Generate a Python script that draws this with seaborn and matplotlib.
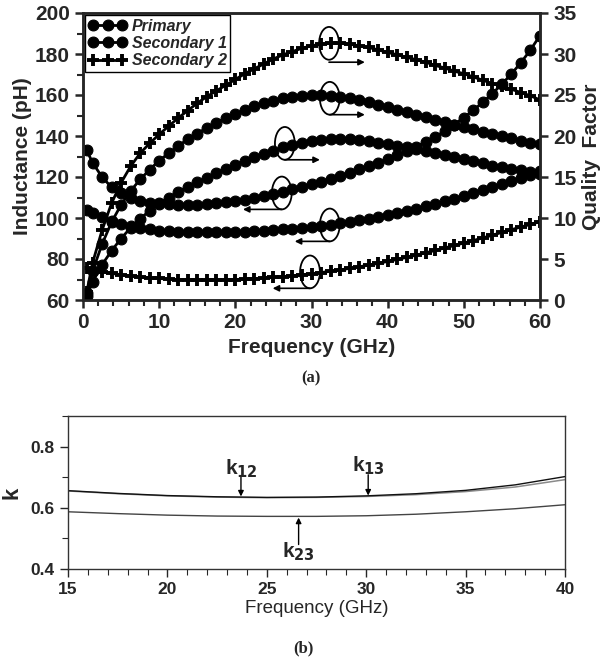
import numpy as np
import pandas as pd
import seaborn as sns
import matplotlib.pyplot as plt
from matplotlib.patches import Ellipse
from matplotlib.ticker import MultipleLocator

# ---- data (a): inductance and Q versus frequency ----
freq = [0.5] + list(np.arange(1.25, 60.01, 1.25))

L_pri = [133,
         127, 120, 115, 112,
         110, 108.5, 107.5, 107,
         106.6, 106.4, 106.4, 106.5,
         106.8, 107.2, 107.7, 108.3,
         109, 109.8, 110.7, 111.7,
         112.8, 114, 115.2, 116.5,
         117.8, 119.2, 120.6, 122.1,
         123.7, 125.3, 127, 128.8,
         130.7, 132.7, 134.8, 137,
         139.6, 142.4, 145.6, 149.0,
         152.6, 156.5, 160.7, 165.3,
         170.3, 175.8, 182, 189]
L_sec1 = [104,
          102.5, 100.3, 98.5, 97,
          95.9, 95, 94.4, 93.9,
          93.5, 93.3, 93.1, 93,
          93, 93, 93.1, 93.2,
          93.4, 93.6, 93.8, 94.1,
          94.4, 94.8, 95.2, 95.7,
          96.2, 96.8, 97.4, 98.1,
          98.9, 99.7, 100.6, 101.5,
          102.5, 103.5, 104.6, 105.7,
          106.9, 108.1, 109.4, 110.7,
          112.1, 113.5, 115, 116.5,
          118, 119.6, 121.2, 122.8]
L_sec2 = [75.5,
          75, 73.8, 73, 72.3,
          71.7, 71.2, 70.8, 70.5,
          70.2, 70, 69.9, 69.8,
          69.8, 69.8, 69.9, 70,
          70.2, 70.4, 70.7, 71,
          71.4, 71.8, 72.3, 72.8,
          73.4, 74, 74.7, 75.4,
          76.2, 77, 77.9, 78.8,
          79.8, 80.8, 81.9, 83,
          84.2, 85.4, 86.6, 87.8,
          89, 90.3, 91.6, 93,
          94.3, 95.6, 96.9, 98.2]

Q_pri = [0.5,
         2.2, 4.3, 6.0, 7.5,
         8.8, 9.9, 10.9, 11.8,
         12.5, 13.2, 13.8, 14.4,
         14.9, 15.5, 16.0, 16.5,
         17.0, 17.4, 17.8, 18.2,
         18.6, 18.9, 19.2, 19.4,
         19.5, 19.6, 19.6, 19.6,
         19.5, 19.4, 19.2, 19.0,
         18.8, 18.6, 18.4, 18.2,
         17.9, 17.7, 17.4, 17.2,
         16.9, 16.7, 16.4, 16.2,
         16.0, 15.8, 15.6, 15.4]
Q_sec1 = [0.8,
          3.5, 6.8, 9.5, 11.6,
          13.3, 14.7, 15.9, 17.0,
          17.9, 18.8, 19.6, 20.3,
          21.0, 21.6, 22.2, 22.7,
          23.2, 23.6, 24.0, 24.3,
          24.6, 24.8, 24.9, 25.0,
          25.0, 24.9, 24.8, 24.6,
          24.4, 24.1, 23.8, 23.5,
          23.2, 22.9, 22.6, 22.3,
          22.0, 21.7, 21.4, 21.1,
          20.8, 20.5, 20.2, 20.0,
          19.7, 19.4, 19.2, 19.0]
Q_sec2 = [1.0,
          4.5, 8.5, 11.8, 14.3,
          16.3, 17.9, 19.1, 20.2,
          21.2, 22.2, 23.1, 24.0,
          24.8, 25.5, 26.2, 26.9,
          27.6, 28.2, 28.8, 29.4,
          29.9, 30.3, 30.7, 31.0,
          31.2, 31.3, 31.3, 31.2,
          31.0, 30.8, 30.5, 30.2,
          29.9, 29.6, 29.3, 29.0,
          28.6, 28.3, 27.9, 27.6,
          27.2, 26.8, 26.4, 26.1,
          25.7, 25.3, 24.9, 24.4]

# ---- data (b): coupling coefficients ----
freq_k = [15, 17.5, 20, 22.5, 25, 27.5, 30, 32.5, 35, 37.5, 40]
k12 = [0.655, 0.646, 0.639, 0.635, 0.633, 0.634, 0.637, 0.643, 0.653, 0.668, 0.692]
k13 = [0.656, 0.647, 0.640, 0.636, 0.634, 0.635, 0.639, 0.646, 0.657, 0.675, 0.702]
k23 = [0.587, 0.581, 0.576, 0.573, 0.572, 0.572, 0.574, 0.579, 0.587, 0.597, 0.610]

sns.set_style('ticks')
plt.rcParams['font.family'] = ['Liberation Sans', 'DejaVu Sans']

fig = plt.figure(figsize=(6.04, 6.66), dpi=100)
ax = fig.add_axes([83 / 604, 1 - 300 / 666, 457 / 604, 287 / 666])
ax2 = ax.twinx()

df = pd.DataFrame({'f': freq, 'Lp': L_pri, 'L1': L_sec1, 'L2': L_sec2,
                   'Qp': Q_pri, 'Q1': Q_sec1, 'Q2': Q_sec2})

circ = dict(marker='o', markersize=7.8, color='black', linewidth=2,
            markeredgecolor='black', markeredgewidth=0.8)
plus = dict(marker='+', markersize=8, markeredgewidth=2.8, color='black',
            linewidth=2, markeredgecolor='black')

sns.lineplot(data=df, x='f', y='Lp', ax=ax, label='Primary', **circ)
sns.lineplot(data=df, x='f', y='L1', ax=ax, label='Secondary 1', **circ)
sns.lineplot(data=df, x='f', y='L2', ax=ax, label='Secondary 2', **plus)
sns.lineplot(data=df, x='f', y='Qp', ax=ax2, legend=False, **circ)
sns.lineplot(data=df, x='f', y='Q1', ax=ax2, legend=False, **circ)
sns.lineplot(data=df, x='f', y='Q2', ax=ax2, legend=False, **plus)

ax.set_xlim(0, 60)
ax.set_ylim(60, 200)
ax2.set_ylim(0, 35)
ax.xaxis.set_major_locator(MultipleLocator(10))
ax.xaxis.set_minor_locator(MultipleLocator(2))
ax.yaxis.set_major_locator(MultipleLocator(20))
ax.yaxis.set_minor_locator(MultipleLocator(10))
ax2.yaxis.set_major_locator(MultipleLocator(5))

for a in (ax, ax2):
    for s in a.spines.values():
        s.set_linewidth(1.8)
        s.set_visible(True)
    a.tick_params(which='major', direction='out', length=6, width=1.8, labelsize=15)
    a.tick_params(which='minor', direction='out', length=4, width=1.5)
    for lab in a.get_xticklabels() + a.get_yticklabels():
        lab.set_fontweight('bold')

ax.set_xlabel('Frequency (GHz)', fontsize=15, fontweight='bold', labelpad=4)
ax.set_ylabel('Inductance (pH)', fontsize=15, fontweight='bold', labelpad=2)
ax2.set_ylabel('Quality  Factor', fontsize=15, fontweight='bold', labelpad=4)

leg = ax.legend(loc='upper left', numpoints=3, handlelength=2.4, handletextpad=0.3,
                borderaxespad=0.15, borderpad=0.2, labelspacing=0.15,
                fancybox=False, framealpha=1, edgecolor='black',
                prop=dict(size=11.5, style='italic', weight='bold'))
leg.get_frame().set_linewidth(1.0)

# ellipse markers with arrows: (axis, cx, cy, height, arrow y, arrow end x)
marks = [(ax2, 32.3, 31.3, 4.0, 29.0, 37.0),
         (ax2, 32.4, 24.6, 4.0, 22.6, 37.0),
         (ax2, 26.5, 19.1, 4.0, 17.1, 31.1),
         (ax, 26.1, 112.2, 16.0, 104.2, 21.0),
         (ax, 32.4, 96.6, 16.0, 88.6, 27.8),
         (ax, 29.8, 73.7, 16.0, 65.7, 24.9)]
for a, cx, cy, h, ay, ax_end in marks:
    a.add_patch(Ellipse((cx, cy), 2.6, h, fill=False, edgecolor='black', lw=1.3, zorder=5))
    a.annotate('', xy=(ax_end, ay), xytext=(cx, ay),
               arrowprops=dict(arrowstyle='-|>', color='black', lw=1.2,
                               mutation_scale=9, shrinkA=0, shrinkB=0))

fig.text(311 / 604, 1 - 378 / 666, '(a)', ha='center', va='center',
         fontsize=12, fontweight='bold', family='Liberation Serif')

# ---- panel (b) ----
bx = fig.add_axes([68 / 604, 1 - 569 / 666, 497 / 604, 153 / 666])
dk = pd.DataFrame({'f': freq_k, 'k12': k12, 'k13': k13, 'k23': k23})
sns.lineplot(data=dk, x='f', y='k12', ax=bx, color='#8a8a8a', linewidth=1.1)
sns.lineplot(data=dk, x='f', y='k13', ax=bx, color='#111111', linewidth=1.0)
sns.lineplot(data=dk, x='f', y='k23', ax=bx, color='#444444', linewidth=1.0)
bx.set_xlim(15, 40)
bx.set_ylim(0.4, 0.9)
bx.xaxis.set_major_locator(MultipleLocator(5))
bx.xaxis.set_minor_locator(MultipleLocator(1))
bx.set_yticks([0.4, 0.6, 0.8])
bx.yaxis.set_minor_locator(MultipleLocator(0.1))
for s in bx.spines.values():
    s.set_linewidth(1.0)
    s.set_color('#333333')
bx.tick_params(which='major', direction='out', length=6, width=1.0, labelsize=12.5)
bx.tick_params(which='minor', direction='out', length=4, width=0.8)
for lab in bx.get_xticklabels() + bx.get_yticklabels():
    lab.set_fontweight('bold')
bx.set_xlabel('Frequency (GHz)', fontsize=13.5, labelpad=2)
bx.set_ylabel('k', fontsize=16, fontweight='bold', labelpad=6)

arr = dict(arrowstyle='-|>', color='black', lw=1.0, mutation_scale=8,
           shrinkA=0, shrinkB=0)
bx.annotate('', xy=(23.7, 0.637), xytext=(23.7, 0.705), arrowprops=arr)
bx.text(23.7, 0.728, 'k$_{\\mathbf{12}}$', ha='center', va='center',
        fontsize=15, fontweight='bold')
bx.annotate('', xy=(30.1, 0.640), xytext=(30.1, 0.708), arrowprops=arr)
bx.text(30.1, 0.738, 'k$_{\\mathbf{13}}$', ha='center', va='center',
        fontsize=15, fontweight='bold')
bx.annotate('', xy=(26.6, 0.568), xytext=(26.6, 0.480), arrowprops=arr)
bx.text(26.6, 0.458, 'k$_{\\mathbf{23}}$', ha='center', va='center',
        fontsize=15, fontweight='bold')

fig.text(303 / 604, 1 - 648 / 666, '(b)', ha='center', va='center',
         fontsize=12, fontweight='bold', family='Liberation Serif')

fig.savefig('out.png', dpi=100)
